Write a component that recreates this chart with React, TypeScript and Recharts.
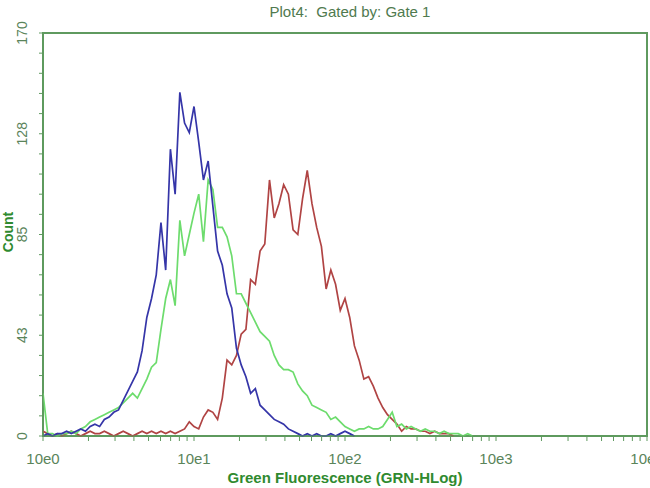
import { LineChart, Line, XAxis, YAxis, ReferenceArea } from "recharts";

// histogram bins: 32 bins per decade, bin 0 = 10e0
const blue = [
  0, 1, 0, 1, 1, 2, 1, 2, 3, 2, 4, 5, 4, 7, 8, 10, 11, 15, 19, 23, 27, 36, 50, 58, 68, 90, 70, 121, 102, 145,
  132, 128, 139, 124, 108, 116, 97, 78, 72, 60, 54, 37, 30, 25, 18, 20, 13, 11, 9, 7, 6, 5, 3, 2, 1, 0,
  1, 0, 1, 0, 0, 1, 0, 1, 2, 1, 0,
];
const green = [
  18, 1, 1, 0, 1, 1, 2, 1, 3, 4, 6, 7, 8, 9, 10, 11, 12, 14, 16, 18, 16, 20, 24, 29, 31, 45, 58, 66, 55, 91,
  76, 85, 94, 102, 82, 108, 104, 88, 88, 84, 76, 60, 60, 56, 52, 48, 44, 42, 40, 34, 30, 28, 28, 27, 22, 19,
  17, 13, 12, 11, 10, 7, 8, 6, 4, 3, 2, 3, 3, 4, 3, 3, 4, 7, 10, 4, 5, 3, 4, 3, 2, 3, 2, 2, 1, 2, 1, 1, 1,
  0, 1, 0,
];
const red = [
  2, 1, 0, 1, 0, 1, 2, 1, 0, 1, 2, 1, 1, 2, 1, 0, 1, 2, 1, 0, 1, 2, 1, 2, 1, 2, 1, 2, 1, 2, 3, 6, 4, 3, 8,
  11, 10, 7, 16, 32, 30, 34, 43, 45, 66, 64, 78, 81, 108, 92, 98, 106, 102, 87, 85, 100, 112, 98, 88, 80,
  62, 70, 64, 53, 58, 50, 38, 32, 24, 25, 21, 16, 12, 9, 7, 5, 2, 4, 3, 3, 2, 2, 1, 2, 1, 1, 1, 0,
];

const xTickLabels = ["10e0", "10e1", "10e2", "10e3", "10e4"];
const yTickLabels = ["0", "43", "85", "128", "170"];
const yLabelValues = [0, 42.5, 85, 127.5, 170];

const binsPerDecade = 32;
const majorX = xTickLabels.map((_, d) => d * binsPerDecade);
const xTicks: number[] = [];
for (let d = 0; d < 4; d++) {
  for (let k = 1; k < 10; k++) xTicks.push(binsPerDecade * (d + Math.log10(k)));
}
xTicks.push(4 * binsPerDecade);
const yTicks = Array.from({ length: 21 }, (_, i) => i * 8.5);

const data = green.map((g, i) => ({
  bin: i,
  blue: i < blue.length ? blue[i] : null,
  green: g,
  red: i < red.length ? red[i] : null,
}));

const axisColor = "#5f9a5f";
const tickText = "#5a845a";
const titleGreen = "#2f8a2f";
const font = '"Liberation Sans", Arial, sans-serif';

const XTick = ({ x, payload }: any) => {
  const idx = majorX.indexOf(payload.value);
  if (idx < 0) return <g />;
  return (
    <text x={x} y={464} textAnchor="middle" fontSize={15} fill={tickText} fontFamily={font}>
      {xTickLabels[idx]}
    </text>
  );
};

const YTick = ({ y, payload }: any) => {
  const idx = yLabelValues.indexOf(payload.value);
  if (idx < 0) return <g />;
  return (
    <text
      transform={`translate(27,${y}) rotate(-90)`}
      textAnchor="middle"
      fontSize={14}
      fill={tickText}
      fontFamily={font}
    >
      {yTickLabels[idx]}
    </text>
  );
};

export default function App() {
  return (
    <div
      style={{
        position: "absolute",
        left: 0,
        top: 0,
        width: 650,
        height: 488,
        background: "#fff",
        fontFamily: font,
        overflow: "hidden",
      }}
    >
      <div
        style={{
          position: "absolute",
          left: 0,
          width: 700,
          top: 3,
          textAlign: "center",
          fontSize: 15,
          color: "#4f7a4f",
          whiteSpace: "pre",
        }}
      >
        {"Plot4:  Gated by: Gate 1"}
      </div>
      <div
        style={{
          position: "absolute",
          left: 0,
          width: 690,
          top: 469,
          textAlign: "center",
          fontSize: 15,
          fontWeight: "bold",
          color: titleGreen,
        }}
      >
        Green Fluorescence (GRN-HLog)
      </div>
      <div
        style={{
          position: "absolute",
          left: -17,
          top: 224,
          width: 50,
          textAlign: "center",
          fontSize: 14,
          fontWeight: "bold",
          color: titleGreen,
          transform: "rotate(-90deg)",
        }}
      >
        Count
      </div>
      <LineChart
        width={650}
        height={488}
        data={data}
        margin={{ top: 33, right: 3, bottom: 0, left: 0 }}
      >
        <XAxis
          type="number"
          dataKey="bin"
          domain={[0, 128]}
          ticks={xTicks}
          interval={0}
          allowDataOverflow
          height={52}
          tickSize={5}
          stroke={axisColor}
          tick={<XTick />}
        />
        <YAxis
          type="number"
          domain={[0, 170]}
          ticks={yTicks}
          interval={0}
          width={43}
          tickSize={4}
          stroke={axisColor}
          tick={<YTick />}
        />
        <ReferenceArea x1={0} x2={128} y1={0} y2={170} fill="none" stroke={axisColor} strokeWidth={2} />
        <Line type="linear" dataKey="red" stroke="#b04444" strokeWidth={1.7} dot={false} isAnimationActive={false} />
        <Line type="linear" dataKey="green" stroke="#6ddc6d" strokeWidth={1.7} dot={false} isAnimationActive={false} />
        <Line type="linear" dataKey="blue" stroke="#3535a8" strokeWidth={1.7} dot={false} isAnimationActive={false} />
      </LineChart>
    </div>
  );
}
